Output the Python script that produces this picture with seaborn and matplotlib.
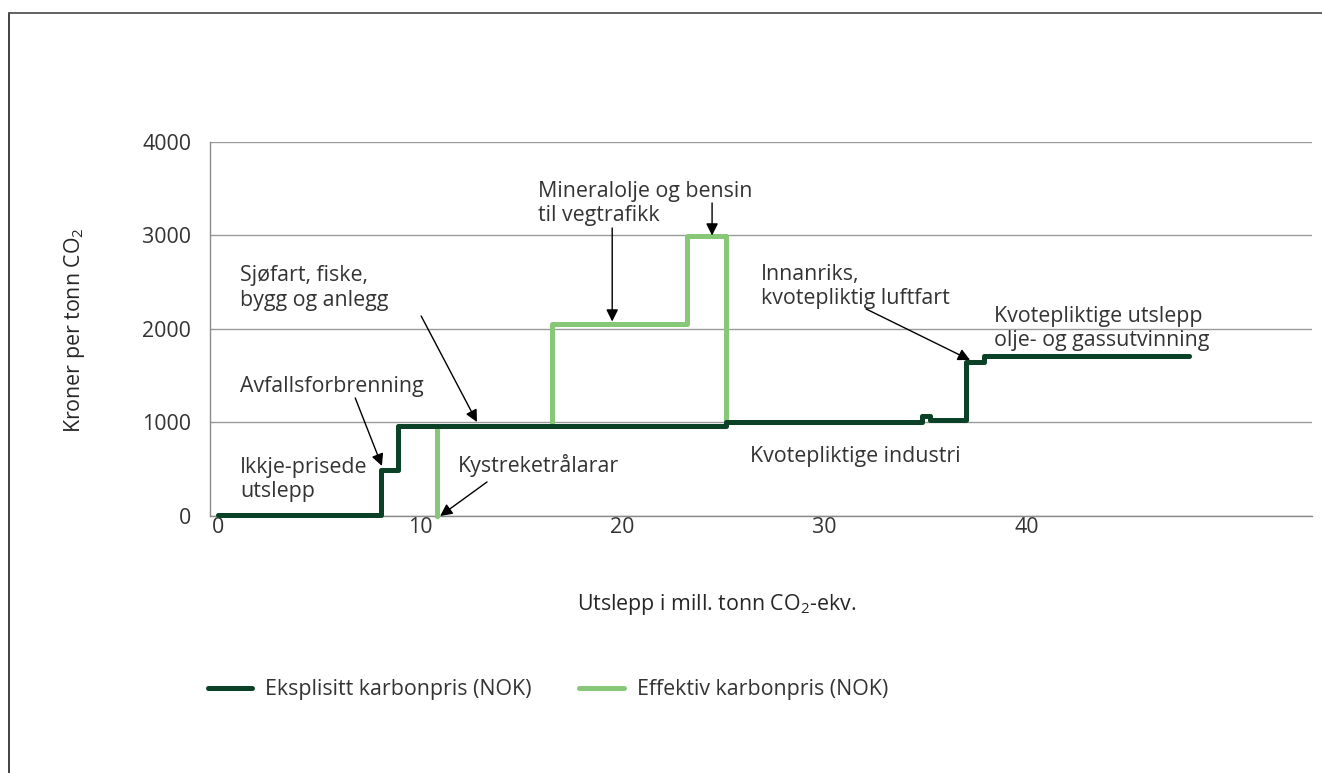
import matplotlib
matplotlib.use("Agg")
import matplotlib.pyplot as plt
from matplotlib.lines import Line2D
import pandas as pd
import seaborn as sns

# Cumulative emissions (mill. tonn CO2-ekv.) where each price level starts/ends,
# and the price (NOK per tonn CO2) that applies on each interval.
explicit_edges = [0.0, 8.06, 8.9, 25.1, 34.8, 35.2, 37.0, 37.9, 48.0]
explicit_price = [15, 490, 960, 1000, 1065, 1030, 1645, 1712]

effective_edges = [0.0, 8.06, 8.9, 10.83, 10.83, 16.5, 23.2, 25.1, 34.8, 35.2, 37.0, 37.9, 48.0]
effective_price = [15, 490, 960, 0, 960, 2050, 2990, 1000, 1065, 1030, 1645, 1712]

series_names = ["Eksplisitt karbonpris (NOK)", "Effektiv karbonpris (NOK)"]
series_colors = ["#0b4227", "#86c877"]

x_ticks = [0, 10, 20, 30, 40]
y_ticks = [0, 1000, 2000, 3000, 4000]

FS = 15.4


def step_frame(edges, prices, name):
    """Vertices for a steps-post line: one point per interval start plus the end."""
    xs = list(edges)
    ys = list(prices) + [prices[-1]]
    return pd.DataFrame({"x": xs, "price": ys, "series": name})


sns.set_theme(style="white")
plt.rcParams["font.family"] = ["Open Sans", "DejaVu Sans"]
plt.rcParams["mathtext.fontset"] = "custom"
plt.rcParams["mathtext.rm"] = "Open Sans"
plt.rcParams["mathtext.it"] = "Open Sans"
plt.rcParams["text.color"] = "#333333"

fig = plt.figure(figsize=(13.22, 7.73), dpi=100)
ax = fig.add_axes([0.1589, 0.3325, 0.9924 - 0.1589, 0.8163 - 0.3325])

df_eff = step_frame(effective_edges, effective_price, series_names[1])
df_exp = step_frame(explicit_edges, explicit_price, series_names[0])

line_kw = dict(estimator=None, sort=False, drawstyle="steps-post", linewidth=3.6,
               solid_joinstyle="round", solid_capstyle="round", legend=False)
sns.lineplot(data=df_eff, x="x", y="price", color=series_colors[1], ax=ax, zorder=3, **line_kw)
sns.lineplot(data=df_exp, x="x", y="price", color=series_colors[0], ax=ax, zorder=4, **line_kw)
for ln in ax.lines:
    ln.set_clip_on(False)

ax.set_xlim(-0.4, 54.1)
ax.set_ylim(0, 4000)
ax.set_xticks(x_ticks)
ax.set_yticks(y_ticks)
ax.tick_params(axis="both", length=0, labelsize=FS, labelcolor="#333333")
ax.tick_params(axis="y", pad=13.5)
ax.tick_params(axis="x", pad=1)
ax.yaxis.grid(True, color="#9a9a9a", linewidth=1.0)
ax.xaxis.grid(False)
for side in ["top", "right"]:
    ax.spines[side].set_visible(False)
for side in ["left", "bottom"]:
    ax.spines[side].set_color("#8a8a8a")
    ax.spines[side].set_linewidth(1.0)

ax.set_xlabel(r"Utslepp i mill. tonn CO$_\mathregular{2}$-ekv.", fontsize=FS)
ax.set_ylabel(r"Kroner per tonn CO$_\mathregular{2}$", fontsize=FS)
ax.xaxis.set_label_coords(0.46, -0.203)
ax.yaxis.set_label_coords(-0.112, 0.497)

arrow = dict(arrowstyle="-|>", color="black", lw=1.0, mutation_scale=18,
             shrinkA=0, shrinkB=0)
txt = dict(fontsize=FS, color="#333333", ha="left", va="center", linespacing=1.2)

ax.text(1.09, 1380, "Avfallsforbrenning", **txt)
ax.annotate("", xy=(8.1, 535), xytext=(6.78, 1262), arrowprops=arrow)
ax.text(1.09, 390, "Ikkje-prisede\nutslepp", **txt)

ax.text(11.87, 535, "Kystreketrålarar", **txt)
ax.annotate("", xy=(10.98, 0), xytext=(13.3, 364), arrowprops=arrow)

ax.text(1.09, 2439, "Sjøfart, fiske,\nbygg og anlegg", **txt)
ax.annotate("", xy=(12.8, 1005), xytext=(10.04, 2139), arrowprops=arrow)

ax.text(15.83, 3345, "Mineralolje og bensin\ntil vegtrafikk", **txt)
ax.annotate("", xy=(19.49, 2080), xytext=(19.49, 3080), arrowprops=arrow)
ax.annotate("", xy=(24.43, 3000), xytext=(24.43, 3348), arrowprops=arrow)

ax.text(26.86, 2455, "Innanriks,\nkvotepliktig luftfart", **txt)
ax.annotate("", xy=(37.19, 1668), xytext=(32.05, 2214), arrowprops=arrow)

ax.text(38.38, 2005, "Kvotepliktige utslepp\nolje- og gassutvinning", **txt)
ax.text(26.3, 635, "Kvotepliktige industri", **txt)

handles = [Line2D([], [], color=c, lw=3.6, solid_capstyle="round") for c in series_colors]
fig.legend(handles, series_names, loc="center left", bbox_to_anchor=(0.157, 0.108),
           ncol=2, frameon=False, fontsize=FS, handlelength=2.1, handletextpad=0.6,
           columnspacing=2.2, borderpad=0, borderaxespad=0)

# Outer frame: left and top edges
fig.add_artist(Line2D([0.0068, 0.0068], [0.0, 0.983], transform=fig.transFigure,
                      color="#333333", lw=1.3))
fig.add_artist(Line2D([0.0068, 1.0], [0.983, 0.983], transform=fig.transFigure,
                      color="#555555", lw=1.3))

fig.savefig("out.png", dpi=100)
